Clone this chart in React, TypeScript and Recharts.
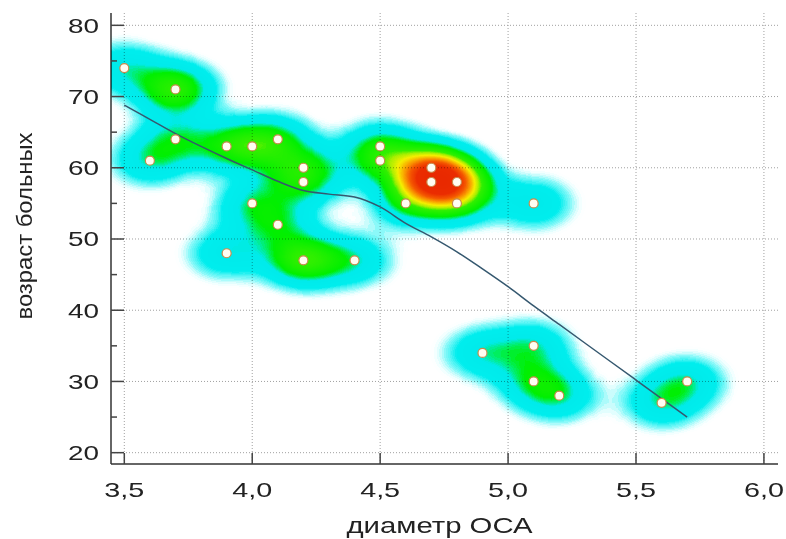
import { ScatterChart, Scatter, XAxis, YAxis, CartesianGrid, Label } from 'recharts'

// measured points: диаметр ОСА (x) / возраст больных (y)
const diameter = [3.5, 3.7, 3.6, 3.7, 3.9, 4.0, 4.1, 4.2, 4.2, 4.0, 4.1, 3.9, 4.2, 4.4, 4.5, 4.5, 4.7, 4.7, 4.8, 4.6, 4.8, 5.1, 4.9, 5.1, 5.1, 5.2, 5.6, 5.7]
const age = [74, 71, 61, 64, 63, 63, 64, 60, 58, 55, 52, 48, 47, 47, 63, 61, 60, 58, 58, 55, 55, 55, 34, 35, 30, 28, 27, 30]
// patients sharing the same point
const count = [1, 2, 1, 1, 1, 1, 1, 1, 1, 1, 1, 1, 2, 1, 1, 1, 2, 2, 2, 1, 1, 1, 1, 1, 1, 1, 1, 1]

// smoothed trend line
const trendDiameter = [3.5, 3.6, 3.7, 3.8, 3.9, 4.0, 4.1, 4.2, 4.3, 4.4, 4.5, 4.6, 4.7, 4.8, 4.9, 5.0, 5.1, 5.2, 5.3, 5.4, 5.5, 5.6, 5.7]
const trendAge = [68.8, 66.8, 64.8, 63.0, 61.3, 59.7, 58.1, 56.8, 56.3, 55.9, 54.5, 52.2, 50.3, 48.2, 45.8, 43.3, 40.6, 38.0, 35.4, 32.8, 30.2, 27.6, 25.0]

const xTicks = [3.5, 4.0, 4.5, 5.0, 5.5, 6.0]
const yTicks = [20, 25, 30, 35, 40, 45, 50, 55, 60, 65, 70, 75, 80]
const yGrid = [20, 30, 40, 50, 60, 70, 80]

const points = diameter.map((d, i) => ({ x: d, y: age[i], n: count[i] }))
const trend = trendDiameter.map((d, i) => ({ x: d, y: trendAge[i] }))

const FONT = '"Liberation Sans", Arial, sans-serif'

// density kernel (px), alpha of one patient at the kernel peak
const SIGMA_X = 26
const SIGMA_Y = 17.5
const UNIT = 0.1
const MAX_N = 2

// density (in patients) -> r, g, b, a
const heatStops = [
  [0, 200, 255, 255, 0],
  [0.15, 200, 255, 255, 0],
  [0.35, 60, 245, 245, 0.6],
  [0.6, 0, 238, 238, 1],
  [1.1, 0, 235, 235, 1],
  [1.3, 0, 240, 90, 1],
  [1.45, 0, 240, 0, 1],
  [2.2, 50, 240, 0, 1],
  [2.5, 170, 240, 0, 1],
  [2.85, 245, 240, 0, 1],
  [3.3, 250, 165, 0, 1],
  [3.8, 245, 90, 0, 1],
  [4.4, 235, 45, 0, 1],
  [10, 225, 25, 0, 1],
]

function rampTable(ch: number) {
  const vals: string[] = []
  for (let i = 0; i <= 250; i++) {
    const d = i / 250 / UNIT
    let k = 0
    while (k < heatStops.length - 2 && d > heatStops[k + 1][0]) k++
    const a = heatStops[k]
    const b = heatStops[k + 1]
    const f = Math.min(1, Math.max(0, (d - a[0]) / (b[0] - a[0])))
    let v = a[ch] + (b[ch] - a[ch]) * f
    if (ch < 4) v /= 255
    vals.push(v.toFixed(3))
  }
  return vals.join(' ')
}

const kernelStops = [0, 0.1, 0.2, 0.3, 0.4, 0.5, 0.6, 0.7, 0.8, 0.9, 1]

const fmt = (v: number) => v.toFixed(1).replace('.', ',')

const XTick = (props: any) => {
  const { x, y, payload } = props
  return (
    <g>
      <line x1={x} y1={y} x2={x} y2={y - 11} stroke="#444" strokeWidth={1.5} />
      <text x={x} y={y + 33} textAnchor="middle" fontSize={21} fontFamily={FONT} fill="#222"
        textLength={40} lengthAdjust="spacingAndGlyphs">
        {fmt(payload.value)}
      </text>
    </g>
  )
}

const YTick = (props: any) => {
  const { x, y, payload } = props
  const major = payload.value % 10 === 0
  return (
    <g>
      <line x1={x} y1={y} x2={x + (major ? 13 : 6)} y2={y} stroke="#444" strokeWidth={1.5} />
      {major && (
        <text x={x - 12} y={y + 7.5} textAnchor="end" fontSize={21} fontFamily={FONT} fill="#222"
          textLength={31} lengthAdjust="spacingAndGlyphs">
          {payload.value}
        </text>
      )}
    </g>
  )
}

const HeatShape = (p: any) => (
  <ellipse cx={p.cx} cy={p.cy} rx={SIGMA_X * 3} ry={SIGMA_Y * 3} fill="url(#kernel)"
    fillOpacity={p.payload.n / MAX_N} style={{ mixBlendMode: 'plus-lighter' }} />
)

const PointShape = (p: any) => (
  <circle cx={p.cx} cy={p.cy} r={4.5} fill="#fffdf2" stroke="#c98a4b" strokeWidth={1.2} />
)

const NoShape = () => <g />

export default function App() {
  return (
    <div style={{ position: 'absolute', left: 0, top: 0, width: 786, height: 539, background: '#fff' }}>
      <style>{`.heat-layer { filter: url(#heat); mix-blend-mode: multiply; isolation: isolate; }`}</style>
      <svg width={0} height={0} style={{ position: 'absolute' }}>
        <defs>
          <radialGradient id="kernel">
            {kernelStops.map((t) => (
              <stop key={t} offset={t} stopColor="#000"
                stopOpacity={t === 1 ? 0 : UNIT * MAX_N * Math.exp(-(3 * t) * (3 * t) / 2)} />
            ))}
          </radialGradient>
          <filter id="heat" x="-50%" y="-50%" width="200%" height="200%" colorInterpolationFilters="sRGB">
            <feGaussianBlur in="SourceGraphic" stdDeviation="2" />
            <feColorMatrix type="matrix" values="0 0 0 1 0  0 0 0 1 0  0 0 0 1 0  0 0 0 1 0" />
            <feComponentTransfer>
              <feFuncR type="table" tableValues={rampTable(1)} />
              <feFuncG type="table" tableValues={rampTable(2)} />
              <feFuncB type="table" tableValues={rampTable(3)} />
              <feFuncA type="table" tableValues={rampTable(4)} />
            </feComponentTransfer>
          </filter>
        </defs>
      </svg>
      <ScatterChart width={786} height={539} margin={{ top: 13, right: 8, bottom: 0, left: 0 }}>
        <CartesianGrid stroke="#a0a0a0" strokeDasharray="1 2" horizontalValues={yGrid} verticalValues={xTicks} />
        <XAxis type="number" dataKey="x" domain={[3.448, 6.055]} ticks={xTicks} interval={0}
          allowDataOverflow height={75} tickSize={0} tickMargin={0} tickLine={false}
          axisLine={{ stroke: '#333', strokeWidth: 1.5 }} tick={XTick}>
          <Label content={(p: any) => (
            <text x={p.viewBox.x + p.viewBox.width / 2 - 5} y={p.viewBox.y + 69} textAnchor="middle"
              fontSize={22} fontFamily={FONT} fill="#222" textLength={186} lengthAdjust="spacingAndGlyphs">
              диаметр ОСА
            </text>
          )} />
        </XAxis>
        <YAxis type="number" dataKey="y" domain={[18.41, 81.73]} ticks={yTicks} interval={0}
          allowDataOverflow width={111} tickSize={0} tickMargin={0} tickLine={false}
          axisLine={{ stroke: '#333', strokeWidth: 1.5 }} tick={YTick}>
          <Label content={(p: any) => {
            const cx = p.viewBox.x + 32
            const cy = 226
            return (
              <text x={cx} y={cy} transform={`rotate(-90 ${cx} ${cy})`} textAnchor="middle"
                fontSize={22} fontFamily={FONT} fill="#222" textLength={187} lengthAdjust="spacingAndGlyphs">
                возраст больных
              </text>
            )
          }} />
        </YAxis>
        <Scatter className="heat-layer" data={points} shape={HeatShape} isAnimationActive={false} />
        <Scatter data={trend} line={{ stroke: '#35586f', strokeWidth: 1.5 }} lineJointType="monotoneX"
          shape={NoShape} isAnimationActive={false} />
        <Scatter data={points} shape={PointShape} isAnimationActive={false} />
      </ScatterChart>
    </div>
  )
}
